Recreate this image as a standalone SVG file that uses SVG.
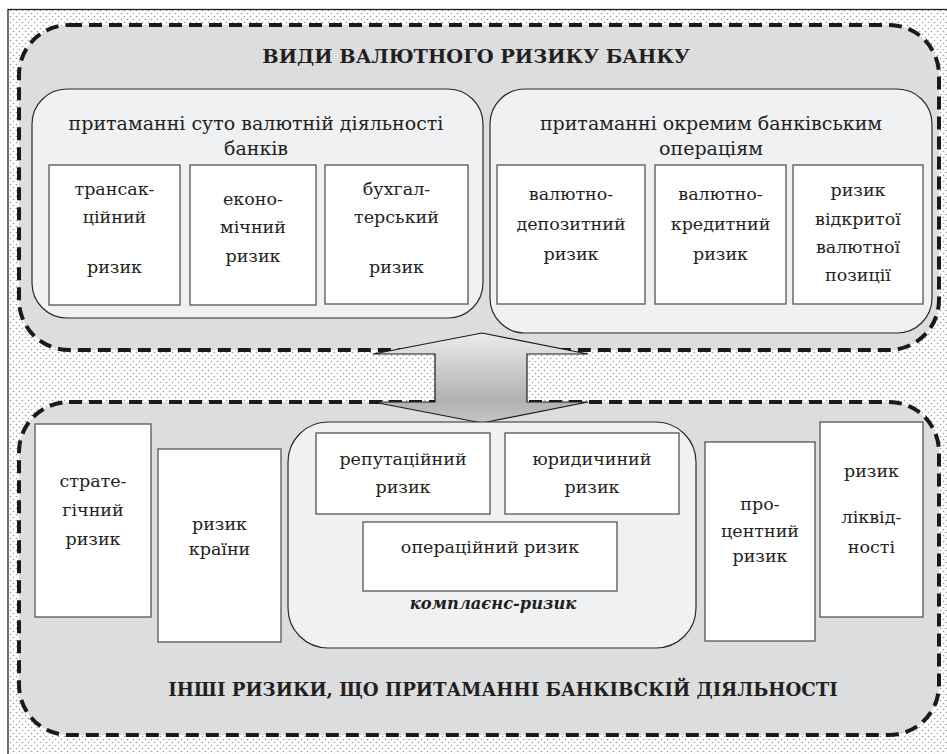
<svg xmlns="http://www.w3.org/2000/svg" width="947" height="754" viewBox="0 0 947 754">
<style>
.t{font-family:"DejaVu Serif","Liberation Serif",serif;font-size:17.5px;fill:#231f20;text-anchor:middle}
.s{font-family:"DejaVu Serif","Liberation Serif",serif;font-size:19px;fill:#231f20;text-anchor:middle}
.b{font-family:"DejaVu Serif","Liberation Serif",serif;font-weight:bold;fill:#231f20;text-anchor:middle}
.bi{font-family:"DejaVu Serif","Liberation Serif",serif;font-weight:bold;font-style:italic;font-size:16.3px;fill:#231f20;text-anchor:middle}
.dash{fill:#dcdddf;stroke:#1a1a1a;stroke-width:4;stroke-dasharray:13 7}
.panel{fill:#f0f1f3;stroke:#2a2a2a;stroke-width:1.2}
.box{fill:#ffffff;stroke:#555555;stroke-width:1.3}
</style>
<defs>
<pattern id="dots" width="6" height="6" patternUnits="userSpaceOnUse">
<rect width="6" height="6" fill="#ffffff"/>
<circle cx="1.5" cy="1.5" r="0.8" fill="#9a9a9a"/>
<circle cx="4.5" cy="4.5" r="0.8" fill="#9a9a9a"/>
</pattern>
<linearGradient id="ag" x1="0" y1="0" x2="0" y2="1">
<stop offset="0" stop-color="#ececec"/>
<stop offset="0.75" stop-color="#b0b0b0"/>
<stop offset="1" stop-color="#c6c6c6"/>
</linearGradient>
</defs>
<rect x="0" y="0" width="947" height="754" fill="#ffffff"/>
<rect x="8" y="9.5" width="960" height="760" fill="url(#dots)" stroke="#222" stroke-width="1.3"/>

<g id="top-group">
<rect class="dash" x="19" y="25" width="920" height="325" rx="50"/>
<text class="b" x="476" y="63" font-size="19.4">ВИДИ ВАЛЮТНОГО РИЗИКУ БАНКУ</text>
</g>

<g id="panel-left">
<rect class="panel" x="32" y="89" width="451" height="229" rx="35"/>
<text class="s" x="256" y="130">притаманні суто валютній діяльності</text>
<text class="s" x="256" y="155">банків</text>
</g>
<g id="panel-right">
<rect class="panel" x="490" y="89" width="442" height="244" rx="35"/>
<text class="s" x="711" y="130">притаманні окремим банківським</text>
<text class="s" x="711" y="155">операціям</text>
</g>

<g id="box-transaction">
<rect class="box" x="49" y="165" width="131" height="140"/>
<text class="t" x="114.5" y="195">трансак-</text>
<text class="t" x="114.5" y="223">ційний</text>
<text class="t" x="114.5" y="273">ризик</text>
</g>
<g id="box-economic">
<rect class="box" x="190" y="165" width="126" height="140"/>
<text class="t" x="253" y="205">еконо-</text>
<text class="t" x="253" y="233">мічний</text>
<text class="t" x="253" y="262">ризик</text>
</g>
<g id="box-accounting">
<rect class="box" x="325" y="165" width="143" height="139"/>
<text class="t" x="396.5" y="195">бухгал-</text>
<text class="t" x="396.5" y="223">терський</text>
<text class="t" x="396.5" y="273">ризик</text>
</g>
<g id="box-deposit">
<rect class="box" x="497" y="165" width="148" height="139"/>
<text class="t" x="571" y="200">валютно-</text>
<text class="t" x="571" y="230">депозитний</text>
<text class="t" x="571" y="260">ризик</text>
</g>
<g id="box-credit">
<rect class="box" x="655" y="165" width="131" height="139"/>
<text class="t" x="720.5" y="200">валютно-</text>
<text class="t" x="720.5" y="230">кредитний</text>
<text class="t" x="720.5" y="260">ризик</text>
</g>
<g id="box-open-position">
<rect class="box" x="793" y="165" width="130" height="139"/>
<text class="t" x="858" y="196">ризик</text>
<text class="t" x="858" y="225">відкритої</text>
<text class="t" x="858" y="253">валютної</text>
<text class="t" x="858" y="281">позиції</text>
</g>

<g id="bottom-group">
<rect class="dash" x="19" y="402" width="920" height="333" rx="50"/>
<text class="b" x="503" y="696" font-size="18.2">ІНШІ РИЗИКИ, ЩО ПРИТАМАННІ БАНКІВСКІЙ ДІЯЛЬНОСТІ</text>
</g>

<g id="connectors">
<polygon points="482,333 588,354 527,354 527,402 588,402 482,423 373,402 435,402 435,354 373,354" fill="url(#ag)" stroke="#1a1a1a" stroke-width="1.2" stroke-linejoin="miter"/>
</g>

<g id="box-strategic">
<rect class="box" x="35" y="424" width="116" height="193"/>
<text class="t" x="93" y="487">страте-</text>
<text class="t" x="93" y="516">гічний</text>
<text class="t" x="93" y="545">ризик</text>
</g>
<g id="box-country">
<rect class="box" x="158" y="449" width="123" height="193"/>
<text class="t" x="219.5" y="530">ризик</text>
<text class="t" x="219.5" y="555">країни</text>
</g>
<g id="panel-compliance">
<rect class="panel" x="288" y="422" width="408" height="226" rx="40"/>
<text class="bi" x="493" y="609">комплаєнс-ризик</text>
</g>
<g id="box-reputation">
<rect class="box" x="316" y="433" width="174" height="81"/>
<text class="t" x="403" y="465">репутаційний</text>
<text class="t" x="403" y="493">ризик</text>
</g>
<g id="box-legal">
<rect class="box" x="505" y="433" width="174" height="81"/>
<text class="t" x="592" y="465">юридичиний</text>
<text class="t" x="592" y="493">ризик</text>
</g>
<g id="box-operational">
<rect class="box" x="363" y="522" width="254" height="69"/>
<text class="t" x="490" y="553">операційний ризик</text>
</g>
<g id="box-interest">
<rect class="box" x="705" y="442" width="110" height="199"/>
<text class="t" x="760" y="510">про-</text>
<text class="t" x="760" y="537">центний</text>
<text class="t" x="760" y="562">ризик</text>
</g>
<g id="box-liquidity">
<rect class="box" x="820" y="422" width="103" height="195"/>
<text class="t" x="871.5" y="477">ризик</text>
<text class="t" x="871.5" y="523">ліквід-</text>
<text class="t" x="871.5" y="553">ності</text>
</g>
</svg>
